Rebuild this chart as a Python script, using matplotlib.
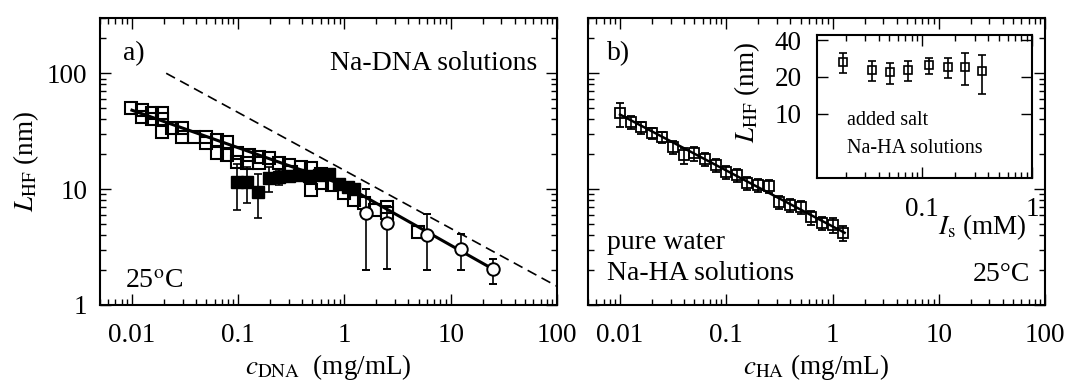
import matplotlib
matplotlib.use('Agg')
import matplotlib.pyplot as plt
from matplotlib.ticker import LogLocator, FixedLocator, FuncFormatter, NullLocator, NullFormatter

plt.rcParams['font.family'] = ['Liberation Serif', 'DejaVu Serif']
plt.rcParams['mathtext.fontset'] = 'stix'
plt.rcParams['font.size'] = 19.5

# ---- panel a: Na-DNA ----
open_x = [0.0098, 0.0124, 0.0124, 0.0155, 0.0155, 0.0192, 0.0192, 0.0192, 0.0238, 0.0296,
          0.0296, 0.0385, 0.0499, 0.0499, 0.0634, 0.0787, 0.0634, 0.0787, 0.098, 0.127,
          0.158, 0.196, 0.122, 0.098, 0.158, 0.244, 0.303, 0.393, 0.489, 0.489,
          0.620, 0.771, 0.316, 0.60, 1.0, 1.24, 1.54, 1.92, 2.49, 2.49, 4.88]
open_y = [49.9, 48.0, 41.8, 45.2, 40.1, 45.2, 40.1, 31.0, 33.6, 33.6,
          28.1, 28.1, 28.1, 24.9, 26.5, 25.4, 20.4, 19.6, 20.4, 19.6,
          18.9, 18.5, 16.8, 17.1, 16.8, 16.8, 16.1, 15.5, 15.2, 9.8,
          11.3, 10.8, 14.0, 13.6, 9.2, 8.0, 7.6, 6.6, 7.0, 6.2, 4.26]

fill_x = [0.098, 0.122, 0.154, 0.196, 0.244, 0.303, 0.376, 0.468, 0.581, 0.722, 0.897, 1.07, 1.24]
fill_y = [11.5, 11.5, 9.5, 12.4, 12.7, 12.9, 13.2, 13.0, 13.2, 13.4, 11.0, 10.5, 10.0]
fill_err = [4.9, 3.9, 3.9, 3.0, 1.8, 1.0, 0.8, 0.6, 0.6, 0.6, 0.5, 0.5, 0.5]

circ_x = [1.58, 2.49, 5.95, 12.4, 24.9]
circ_y = [6.2, 5.1, 4.0, 3.04, 2.04]
circ_lo = [4.2, 3.06, 2.0, 1.04, 0.52]
circ_hi = [3.8, 2.0, 2.1, 1.06, 0.45]

fit_a_x = [0.01, 1.0, 25.0]
fit_a_y = [48.0, 10.8, 2.04]
dash_x = [0.021, 100.0]
dash_y = [100.0, 1.45]

# ---- panel b: Na-HA ----
b_x = [0.01, 0.0126, 0.0158, 0.02, 0.0251, 0.0316, 0.0398, 0.0501, 0.0631, 0.0794, 0.1,
       0.126, 0.158, 0.2, 0.251, 0.316, 0.398, 0.501, 0.631, 0.794, 1.0, 1.26]
b_y = [45.2, 37.8, 34.2, 30.4, 28.1, 23.0, 19.6, 20.4, 18.1, 16.1, 14.0,
       13.2, 11.3, 10.8, 10.6, 7.7, 7.3, 7.0, 5.7, 5.1, 4.9, 4.2]
b_err = [10.5, 5.0, 4.0, 3.5, 3.3, 3.0, 3.0, 2.8, 2.3, 2.0, 1.8,
         1.6, 1.5, 1.4, 1.4, 1.0, 1.0, 0.9, 0.8, 0.7, 0.7, 0.6]
fit_b_x = [0.01, 1.3]
fit_b_y = [44.0, 4.2]

# ---- inset: added salt ----
ins_x = [0.0191, 0.0351, 0.0512, 0.0746, 0.1158, 0.172, 0.246, 0.351]
ins_y = [26.5, 22.8, 21.9, 22.8, 25.0, 24.1, 24.1, 22.4]
ins_err = [5.0, 4.3, 4.3, 4.3, 3.8, 4.5, 7.0, 8.0]

fmt = FuncFormatter(lambda v, p: '%g' % v)


def style(ax):
    ax.set_xscale('log')
    ax.set_yscale('log')
    ax.set_xlim(0.005, 100)
    ax.set_ylim(1, 300)
    ax.tick_params(which='both', direction='in', top=True, right=True, width=1.0)
    ax.tick_params(which='major', length=8)
    ax.tick_params(which='minor', length=4.5)
    ax.tick_params(axis='x', pad=13)
    ax.tick_params(axis='y', pad=9)
    for s in ax.spines.values():
        s.set_linewidth(1.5)
    for axis in (ax.xaxis, ax.yaxis):
        axis.set_major_locator(LogLocator(base=10, numticks=12))
        axis.set_minor_locator(LogLocator(base=10, subs=range(2, 10), numticks=12))
        axis.set_major_formatter(fmt)
        axis.set_minor_formatter(NullFormatter())


fig = plt.figure(figsize=(10.68, 3.81), dpi=100)
ax_a = fig.add_axes([0.0936, 0.1995, 0.4279, 0.7533])
ax_b = fig.add_axes([0.5506, 0.1995, 0.4279, 0.7533])
ax_in = fig.add_axes([0.765, 0.5328, 0.2013, 0.3753])

# panel a
style(ax_a)
ax_a.plot(open_x, open_y, 's', ms=8.5, mfc='none', mec='k', mew=1.5, zorder=2)
ax_a.plot(fit_a_x, fit_a_y, '-', color='k', lw=2.2, zorder=3)
ax_a.plot(dash_x, dash_y, '--', color='k', lw=1.2, dashes=(6, 3.5), zorder=3)
ax_a.errorbar(fill_x, fill_y, yerr=fill_err, fmt='s', ms=9, mfc='k', mec='k',
              ecolor='k', elinewidth=1.2, capsize=3, capthick=1.2, zorder=4)
ax_a.errorbar(circ_x, circ_y, yerr=[circ_lo, circ_hi], fmt='o', ms=9, mfc='white', mec='k',
              mew=1.4, ecolor='k', elinewidth=1.2, capsize=3, capthick=1.2, zorder=5)
ax_a.set_xlabel(r'$c_{\rm DNA}$  (mg/mL)', labelpad=3)
ax_a.set_ylabel(r'$L_{\rm HF}$ (nm)', labelpad=4)
ax_a.text(0.05, 0.854, 'a)', transform=ax_a.transAxes, fontsize=20, va='baseline')
ax_a.text(0.956, 0.818, 'Na-DNA solutions', transform=ax_a.transAxes, fontsize=20,
          ha='right', va='baseline')
ax_a.text(0.055, 0.059, r'25$^{\rm o}$C', transform=ax_a.transAxes, fontsize=20, va='baseline')

# panel b
style(ax_b)
ax_b.tick_params(labelleft=False)
ax_b.errorbar(b_x, b_y, yerr=b_err, fmt='s', ms=7, mfc='none', mec='k', mew=1.3,
              ecolor='k', elinewidth=1.2, capsize=3, capthick=1.2, zorder=3)
ax_b.plot(fit_b_x, fit_b_y, '-', color='k', lw=1.8, zorder=4)
ax_b.set_xlabel(r'$c_{\rm HA}$ (mg/mL)', labelpad=3)
ax_b.text(0.042, 0.854, 'b)', transform=ax_b.transAxes, fontsize=20, va='baseline')
ax_b.text(0.042, 0.195, 'pure water', transform=ax_b.transAxes, fontsize=20, va='baseline')
ax_b.text(0.042, 0.087, 'Na-HA solutions', transform=ax_b.transAxes, fontsize=20, va='baseline')
ax_b.text(0.967, 0.084, '25°C', transform=ax_b.transAxes, fontsize=20, ha='right', va='baseline')

# inset
ax_in.set_facecolor('white')
ax_in.set_xscale('log')
ax_in.set_yscale('log')
ax_in.set_xlim(0.011, 1.0)
ax_in.set_ylim(3, 44)
ax_in.errorbar(ins_x, ins_y, yerr=ins_err, fmt='s', ms=5.5, mfc='none', mec='k', mew=1.2,
               ecolor='k', elinewidth=1.2, capsize=3, capthick=1.2)
ax_in.tick_params(which='both', direction='in', top=True, right=True, width=1.0)
ax_in.tick_params(which='major', length=8)
ax_in.tick_params(which='minor', length=4.5)
ax_in.tick_params(axis='x', pad=14)
ax_in.tick_params(axis='y', pad=11)
for s in ax_in.spines.values():
    s.set_linewidth(1.5)
ax_in.xaxis.set_major_locator(FixedLocator([0.1, 1.0]))
ax_in.xaxis.set_minor_locator(LogLocator(base=10, subs=range(2, 10), numticks=12))
ax_in.xaxis.set_major_formatter(fmt)
ax_in.xaxis.set_minor_formatter(NullFormatter())
ax_in.yaxis.set_major_locator(FixedLocator([10, 20, 40]))
ax_in.yaxis.set_minor_locator(NullLocator())
ax_in.yaxis.set_major_formatter(fmt)
ax_in.set_xlabel(r'$I_{\rm s}$ (mM)')
ax_in.xaxis.set_label_coords(0.77, -0.24)
ax_in.set_ylabel(r'$L_{\rm HF}$ (nm)')
ax_in.yaxis.set_label_coords(-0.255, 0.6)
ax_in.text(0.14, 0.371, 'added salt', transform=ax_in.transAxes, fontsize=14.5, va='baseline')
ax_in.text(0.14, 0.175, 'Na-HA solutions', transform=ax_in.transAxes, fontsize=14.5,
           va='baseline')

fig.savefig('out.png', dpi=100)
